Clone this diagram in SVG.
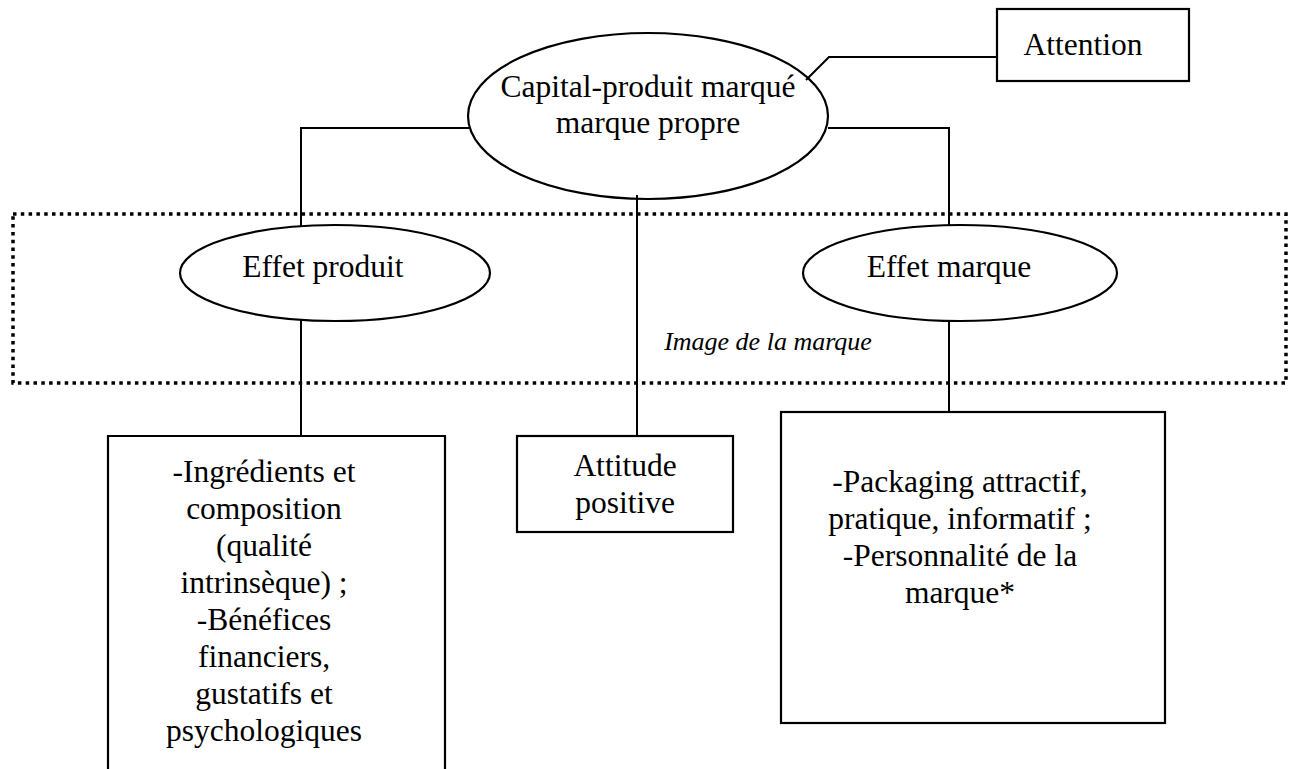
<svg xmlns="http://www.w3.org/2000/svg" width="1295" height="769" viewBox="0 0 1295 769">
  <style>
    .shape { fill: #ffffff; stroke: #000000; stroke-width: 2.2; }
    .link { fill: none; stroke: #000000; stroke-width: 2; }
    .zone { fill: none; stroke: #000000; stroke-width: 3.5; stroke-dasharray: 3.5 4.3; }
    .lbl { font-family: "Liberation Serif", "Times New Roman", serif; font-size: 31.5px; fill: #000000; text-anchor: middle; }
    .note { font-family: "Liberation Serif", "Times New Roman", serif; font-size: 26px; font-style: italic; fill: #000000; text-anchor: middle; }
  </style>
  <rect width="1295" height="769" fill="#ffffff"/>

  <!-- dotted zone: brand image -->
  <g id="zone-image">
    <rect class="zone" x="13" y="214" width="1273" height="169"/>
    <text class="note" x="768" y="350">Image de la marque</text>
  </g>

  <!-- connectors -->
  <g id="connectors">
    <polyline class="link" points="469,128 301,128 301,226"/>
    <polyline class="link" points="828,128 949,128 949,226"/>
    <polyline class="link" points="997,57 829,57 806,80"/>
    <line class="link" x1="637" y1="195" x2="637" y2="436"/>
    <line class="link" x1="301" y1="315" x2="301" y2="436"/>
    <line class="link" x1="949" y1="315" x2="949" y2="412"/>
  </g>

  <g id="node-capital">
    <ellipse class="shape" cx="648" cy="116" rx="180" ry="83" fill-opacity="0"/>
    <text class="lbl" x="648" y="97">Capital-produit marqué</text>
    <text class="lbl" x="648" y="133">marque propre</text>
  </g>

  <g id="node-attention">
    <rect class="shape" x="997" y="9" width="192" height="72"/>
    <text class="lbl" x="1083" y="55">Attention</text>
  </g>

  <g id="node-effet-produit">
    <ellipse class="shape" cx="335" cy="273" rx="155" ry="48"/>
    <text class="lbl" x="323" y="277">Effet produit</text>
  </g>

  <g id="node-effet-marque">
    <ellipse class="shape" cx="960" cy="273" rx="157" ry="48"/>
    <text class="lbl" x="949" y="277">Effet marque</text>
  </g>

  <g id="node-produit-details">
    <path class="shape" d="M108,780 V436 H445 V780"/>
    <text class="lbl" x="264" y="482">-Ingrédients et</text>
    <text class="lbl" x="264" y="519">composition</text>
    <text class="lbl" x="264" y="556">(qualité</text>
    <text class="lbl" x="264" y="593">intrinsèque) ;</text>
    <text class="lbl" x="264" y="630">-Bénéfices</text>
    <text class="lbl" x="264" y="667">financiers,</text>
    <text class="lbl" x="264" y="704">gustatifs et</text>
    <text class="lbl" x="264" y="741">psychologiques</text>
  </g>

  <g id="node-attitude">
    <rect class="shape" x="517" y="436" width="216" height="96"/>
    <text class="lbl" x="625" y="476">Attitude</text>
    <text class="lbl" x="625" y="513">positive</text>
  </g>

  <g id="node-marque-details">
    <rect class="shape" x="781" y="412" width="384" height="311"/>
    <text class="lbl" x="960" y="492">-Packaging attractif,</text>
    <text class="lbl" x="960" y="529">pratique, informatif ;</text>
    <text class="lbl" x="960" y="566">-Personnalité de la</text>
    <text class="lbl" x="960" y="603">marque*</text>
  </g>
</svg>
